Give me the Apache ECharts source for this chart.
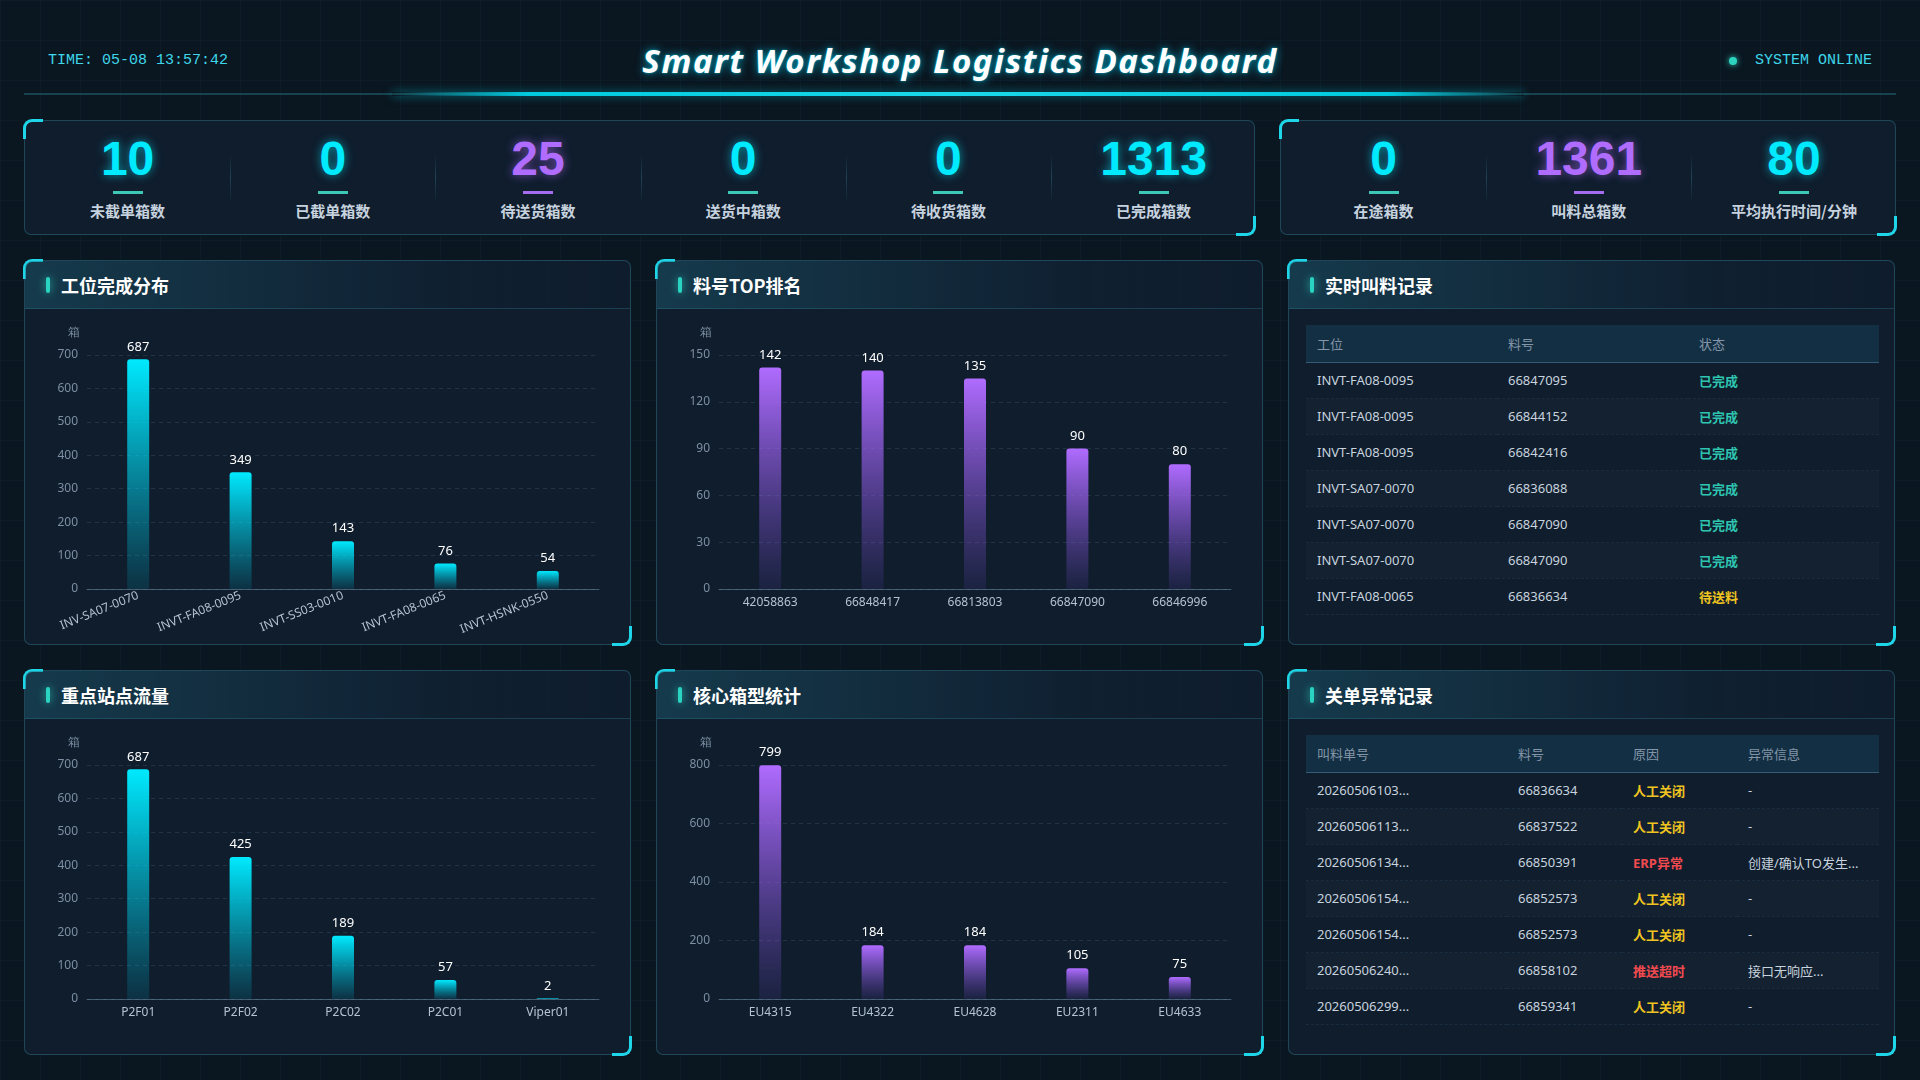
<!DOCTYPE html>
<html><head><meta charset="utf-8">
<script src="https://cdn.jsdelivr.net/npm/echarts@6/dist/echarts.min.js"></script>
<style>
*{margin:0;padding:0;box-sizing:border-box}
html,body{width:1920px;height:1080px;overflow:hidden}
body{background-color:#0a1620;background-image:linear-gradient(rgba(40,110,140,0.07) 1px,transparent 1px),linear-gradient(90deg,rgba(40,110,140,0.07) 1px,transparent 1px);background-size:40px 40px;font-family:"Noto Sans","Noto Sans CJK SC",sans-serif;position:relative;color:#c8d3de}
.time{position:absolute;left:48px;top:52px;font:15px/18px "Liberation Mono",monospace;color:#3ed6ea}
.online{position:absolute;left:1755px;top:52px;font:15px/18px "Liberation Mono",monospace;color:#3ed6ea}
.dot{position:absolute;left:1729px;top:57px;width:8px;height:8px;border-radius:50%;background:#2ed3c0;box-shadow:0 0 6px #2ed3c0}
.title{position:absolute;left:0;top:41px;width:1920px;text-align:center;font-family:"Noto Sans",sans-serif;font-weight:700;font-style:italic;font-size:33px;line-height:40px;color:#fff;letter-spacing:1.6px;text-shadow:0 0 10px rgba(0,220,255,0.7),0 0 2px rgba(0,220,255,0.8)}
.hline{position:absolute;left:24px;top:93px;width:1872px;height:2px;background:rgba(40,120,135,0.45)}
.hglow{position:absolute;left:392px;top:92px;width:1132px;height:4px;background:linear-gradient(90deg,rgba(0,220,240,0) 0%,rgba(0,220,240,0.9) 12%,#1ad8ea 50%,rgba(0,220,240,0.9) 88%,rgba(0,220,240,0) 100%);filter:blur(0.6px);box-shadow:0 0 10px rgba(0,220,240,0.5)}
.panel{position:absolute;background:#0f1d2d;border:1px solid rgba(45,115,135,0.5);border-radius:7px}
.cTL{position:absolute;left:-2px;top:-2px;width:20px;height:20px;border-top:3px solid #1fd6e8;border-left:3px solid #1fd6e8;border-top-left-radius:9px}
.cBR{position:absolute;right:-2px;bottom:-2px;width:20px;height:20px;border-bottom:3px solid #1fd6e8;border-right:3px solid #1fd6e8;border-bottom-right-radius:9px}
.kitem{position:absolute;top:0;height:100%;text-align:center}
.knum{position:absolute;left:0;width:100%;top:12px;font-family:"Liberation Sans",Arial,sans-serif;font-weight:700;font-size:48px;line-height:52px}
.kbar{position:absolute;left:50%;margin-left:-15px;top:70px;width:30px;height:3px}
.klab{position:absolute;left:0;width:100%;top:80px;font-family:"Noto Sans CJK SC",sans-serif;font-weight:700;font-size:15px;line-height:20px;color:#c6d2de}
.kdiv{position:absolute;top:32px;width:1px;height:50px;background:linear-gradient(180deg,rgba(60,140,160,0),rgba(60,140,160,0.35),rgba(60,140,160,0))}
.phead{position:absolute;left:0;top:0;width:100%;height:48px;border-bottom:1px solid rgba(45,115,135,0.4);background:linear-gradient(90deg,rgba(30,95,115,0.45),rgba(20,50,70,0.15) 70%,rgba(15,30,45,0));border-radius:7px 7px 0 0}
.pbar{position:absolute;left:21px;top:16px;width:4px;height:16px;border-radius:2px;background:#2ad4c0;box-shadow:0 0 8px rgba(42,212,192,0.8)}
.ptitle{position:absolute;left:36px;top:12px;font-family:"Noto Sans CJK SC",sans-serif;font-weight:700;font-size:18px;line-height:24px;color:#fff}
.chart{position:absolute;left:0;top:48px;width:100%;height:337px}
table{position:absolute;left:17px;border-collapse:collapse;table-layout:fixed;font-family:"Noto Sans","Noto Sans CJK SC",sans-serif;font-size:13px}
th{height:37px;text-align:left;padding-left:11px;font-weight:400;color:#8495a8;background:rgba(22,62,85,0.55);border-bottom:1px solid rgba(70,120,150,0.7)}
td{height:36px;text-align:left;padding-left:11px;color:#c8d3de;border-bottom:1px dashed rgba(70,100,130,0.22);white-space:nowrap;overflow:hidden}
tr.alt td{background:rgba(255,255,255,0.018)}
.ok{color:#2ec4b0;font-weight:700}
.wait{color:#f0c420;font-weight:700}
.bad{color:#f04a4f;font-weight:700}
</style></head>
<body>
<div class="time" id="time"></div>
<div class="title" id="title"></div>
<div class="dot"></div><div class="online" id="online"></div>
<div class="hline"></div><div class="hglow"></div>
<div id="root"></div>
<script>
// ---------- data ----------
const headerTime = 'TIME: 05-08 13:57:42';
const headerTitle = 'Smart Workshop Logistics Dashboard';
const headerStatus = 'SYSTEM ONLINE';

const kpiLabelsA = ['未截单箱数','已截单箱数','待送货箱数','送货中箱数','待收货箱数','已完成箱数'];
const kpiValuesA = [10, 0, 25, 0, 0, 1313];
const kpiLabelsB = ['在途箱数','叫料总箱数','平均执行时间/分钟'];
const kpiValuesB = [0, 1361, 80];
const kpiPurple = ['待送货箱数','叫料总箱数'];

const stationCats = ['INV-SA07-0070','INVT-FA08-0095','INVT-SS03-0010','INVT-FA08-0065','INVT-HSNK-0550'];
const stationVals = [687, 349, 143, 76, 54];

const partCats = ['42058863','66848417','66813803','66847090','66846996'];
const partVals = [142, 140, 135, 90, 80];

const siteCats = ['P2F01','P2F02','P2C02','P2C01','Viper01'];
const siteVals = [687, 425, 189, 57, 2];

const boxCats = ['EU4315','EU4322','EU4628','EU2311','EU4633'];
const boxVals = [799, 184, 184, 105, 75];

const callHead = ['工位','料号','状态'];
const callStation = ['INVT-FA08-0095','INVT-FA08-0095','INVT-FA08-0095','INVT-SA07-0070','INVT-SA07-0070','INVT-SA07-0070','INVT-FA08-0065'];
const callPart = ['66847095','66844152','66842416','66836088','66847090','66847090','66836634'];
const callStatus = ['已完成','已完成','已完成','已完成','已完成','已完成','待送料'];

const excHead = ['叫料单号','料号','原因','异常信息'];
const excOrder = ['20260506103...','20260506113...','20260506134...','20260506154...','20260506154...','20260506240...','20260506299...'];
const excPart = ['66836634','66837522','66850391','66852573','66852573','66858102','66859341'];
const excReason = ['人工关闭','人工关闭','ERP异常','人工关闭','人工关闭','推送超时','人工关闭'];
const excInfo = ['-','-','创建/确认TO发生...','-','-','接口无响应...','-'];

// ---------- layout ----------
document.getElementById('time').textContent = headerTime;
document.getElementById('title').textContent = headerTitle;
document.getElementById('online').textContent = headerStatus;
const root = document.getElementById('root');

function panel(x, y, w, h) {
  const p = document.createElement('div');
  p.className = 'panel';
  p.style.cssText = `left:${x}px;top:${y}px;width:${w}px;height:${h}px`;
  p.innerHTML = '<div class="cTL"></div><div class="cBR"></div>';
  root.appendChild(p);
  return p;
}
function kpiPanel(x, labels, values) {
  const w = labels.length * 205.2;
  const p = panel(x, 120, w, 115);
  const iw = w / labels.length;
  labels.forEach((lab, i) => {
    const purple = kpiPurple.includes(lab);
    const col = purple ? '#b06cff' : '#00eaff';
    const it = document.createElement('div');
    it.className = 'kitem';
    it.style.left = (i * iw) + 'px'; it.style.width = iw + 'px';
    it.innerHTML = `<div class="knum" style="color:${col};text-shadow:0 0 10px ${purple ? 'rgba(176,108,255,0.6)' : 'rgba(0,234,255,0.6)'}">${values[i]}</div>
      <div class="kbar" style="background:${purple ? '#a66cf0' : '#3cc8b4'}"></div>
      <div class="klab">${lab}</div>`;
    p.appendChild(it);
    if (i > 0) { const d = document.createElement('div'); d.className = 'kdiv'; d.style.left = (i * iw) + 'px'; p.appendChild(d); }
  });
}
kpiPanel(24, kpiLabelsA, kpiValuesA);
kpiPanel(1280, kpiLabelsB, kpiValuesB);

const colX = [24, 656, 1288], rowY = [260, 670], PW = 607, PH = 385;
function chartPanel(cx, ry, title) {
  const p = panel(colX[cx], rowY[ry], PW, PH);
  p.insertAdjacentHTML('beforeend', `<div class="phead"><div class="pbar"></div><div class="ptitle">${title}</div></div>`);
  return p;
}

function barChart(p, cats, vals, max, interval, topCol, botCol, rotate) {
  const el = document.createElement('div'); el.className = 'chart'; p.appendChild(el);
  const ch = echarts.init(el, null, {renderer: 'canvas'});
  ch.setOption({
    animation: false,
    grid: {left: 62, right: 31, top: 46, bottom: 57},
    xAxis: {
      type: 'category', data: cats,
      axisLine: {lineStyle: {color: 'rgba(110,140,165,0.55)'}},
      axisTick: {show: false},
      axisLabel: {color: '#b4c3d1', fontSize: 12, margin: rotate ? 6 : 8, rotate: rotate || 0, fontFamily: 'Noto Sans'}
    },
    yAxis: {
      type: 'value', min: 0, max: max, interval: interval,
      name: '箱', nameGap: 16,
      nameTextStyle: {color: '#7d8fa3', fontSize: 12, align: 'right', padding: [0, 7, 0, 0]},
      axisLine: {show: false}, axisTick: {show: false},
      axisLabel: {color: '#7d8fa3', fontSize: 12, margin: 9, fontFamily: 'Noto Sans'},
      splitLine: {lineStyle: {color: 'rgba(100,130,160,0.22)', type: [4, 4]}}
    },
    series: [{
      type: 'bar', data: vals, barWidth: 22,
      itemStyle: {borderRadius: [3, 3, 0, 0], color: new echarts.graphic.LinearGradient(0, 0, 0, 1, [{offset: 0, color: topCol}, {offset: 1, color: botCol}])},
      label: {show: true, position: 'top', color: '#ffffff', fontSize: 13, distance: 6, fontFamily: 'Noto Sans'}
    }]
  });
}
const CY = ['#00eaff', 'rgba(0,200,230,0.12)'];
const PU = ['#b06cff', 'rgba(120,80,210,0.12)'];
barChart(chartPanel(0, 0, '工位完成分布'), stationCats, stationVals, 700, 100, CY[0], CY[1], 22);
barChart(chartPanel(1, 0, '料号TOP排名'), partCats, partVals, 150, 30, PU[0], PU[1], 0);
barChart(chartPanel(0, 1, '重点站点流量'), siteCats, siteVals, 700, 100, CY[0], CY[1], 0);
barChart(chartPanel(1, 1, '核心箱型统计'), boxCats, boxVals, 800, 200, PU[0], PU[1], 0);

function statusClass(s) { return s === '已完成' ? 'ok' : (s === '待送料' || s === '人工关闭') ? 'wait' : 'bad'; }

function tablePanel(cx, ry, title, head, widths, cols, statusCol) {
  const p = chartPanel(cx, ry, title);
  const t = document.createElement('table');
  t.style.top = '64px'; t.style.width = '573px';
  let html = '<colgroup>' + widths.map(w => `<col style="width:${w}px">`).join('') + '</colgroup><tr>' + head.map(h => `<th>${h}</th>`).join('') + '</tr>';
  for (let r = 0; r < cols[0].length; r++) {
    html += `<tr class="${r % 2 ? 'alt' : ''}">` + cols.map((c, ci) => ci === statusCol ? `<td><span class="${statusClass(c[r])}">${c[r]}</span></td>` : `<td>${c[r]}</td>`).join('') + '</tr>';
  }
  t.innerHTML = html;
  p.appendChild(t);
}
tablePanel(2, 0, '实时叫料记录', callHead, [191, 191, 191], [callStation, callPart, callStatus], 2);
tablePanel(2, 1, '关单异常记录', excHead, [201, 115, 115, 142], [excOrder, excPart, excReason, excInfo], 2);
</script>
</body></html>
